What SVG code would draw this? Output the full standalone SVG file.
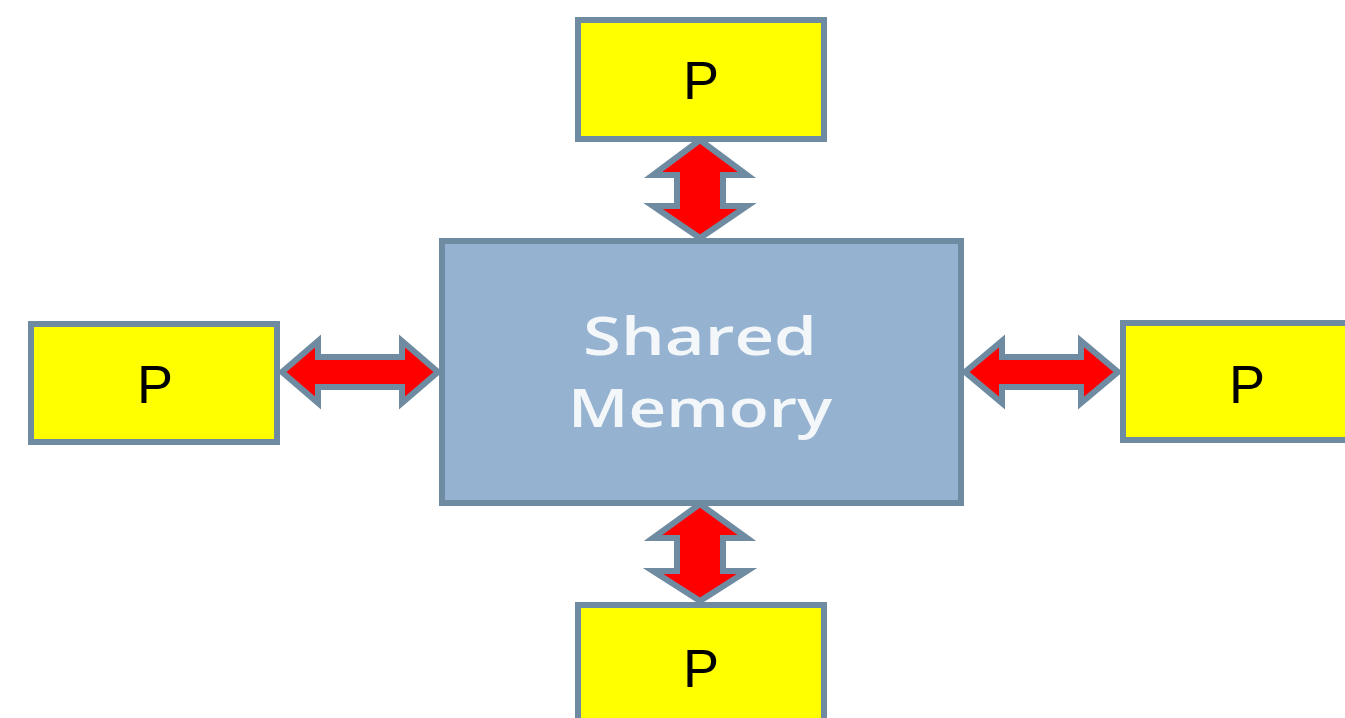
<svg xmlns="http://www.w3.org/2000/svg" width="1345" height="718" viewBox="0 0 1345 718">
  <style>
    .proc { fill: #FFFF00; stroke: #6F8BA1; stroke-width: 6; }
    .mem { fill: #95B3D0; stroke: #6F8BA1; stroke-width: 6; }
    .plabel { font-family: "Liberation Sans", Arial, sans-serif; font-size: 54px; fill: #000000; text-anchor: middle; }
    .mlabel { font-family: "Open Sans", "DejaVu Sans", sans-serif; font-size: 52px; font-weight: 600; fill: #F4F7FA; text-anchor: middle; }
    .arrow { fill: #FF0000; stroke: #6F8BA1; stroke-width: 6; stroke-linejoin: miter; }
  </style>
  <rect width="1345" height="718" fill="#FFFFFF"/>
  <g id="connectors">
    <path class="arrow" d="M700,140 L653,175 L677,175 L677,206 L653,206 L700,238 L747,206 L723,206 L723,175 L747,175 Z"/>
    <path class="arrow" d="M700,504 L653,538 L677,538 L677,571 L653,571 L700,601 L747,571 L723,571 L723,538 L747,538 Z"/>
    <path class="arrow" d="M282,372 L318,341 L318,357 L402,357 L402,341 L438,372 L402,403 L402,387 L318,387 L318,403 Z"/>
    <path class="arrow" d="M965,372 L1002,341 L1002,357 L1081,357 L1081,341 L1118,372 L1081,403 L1081,387 L1002,387 L1002,403 Z"/>
  </g>
  <g id="memory">
    <rect class="mem" x="442" y="241" width="519" height="262"/>
    <text class="mlabel" x="700" y="355" textLength="234" lengthAdjust="spacingAndGlyphs">Shared</text>
    <text class="mlabel" x="700" y="427" textLength="264" lengthAdjust="spacingAndGlyphs">Memory</text>
  </g>
  <g id="p-top">
    <rect class="proc" x="578" y="20" width="246" height="119"/>
    <text class="plabel" x="701" y="99">P</text>
  </g>
  <g id="p-left">
    <rect class="proc" x="31" y="324" width="246" height="118"/>
    <text class="plabel" x="155" y="403">P</text>
  </g>
  <g id="p-right">
    <rect class="proc" x="1123" y="323" width="250" height="117"/>
    <text class="plabel" x="1247" y="403">P</text>
  </g>
  <g id="p-bottom">
    <rect class="proc" x="578" y="605" width="246" height="130"/>
    <text class="plabel" x="701" y="687">P</text>
  </g>
</svg>
